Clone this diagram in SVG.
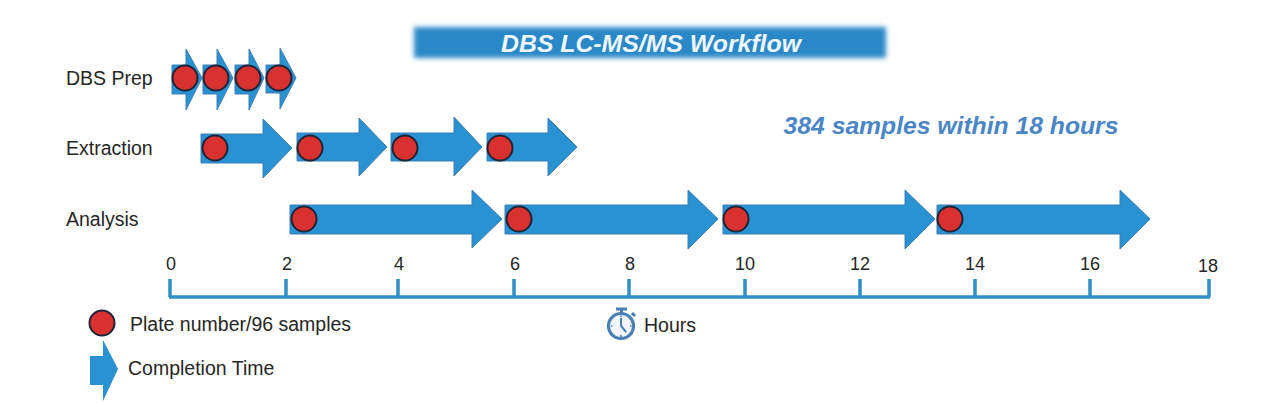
<svg xmlns="http://www.w3.org/2000/svg" width="1280" height="407" viewBox="0 0 1280 407">
<style>
.a{fill:#2892d3;stroke:#3f7fb5;stroke-width:1}
.p{fill:#d9312f;stroke:#1f2436;stroke-width:2}
.t{font-family:"Liberation Sans",Arial,sans-serif;font-size:19.5px;fill:#262626}
.n{font-family:"Liberation Sans",Arial,sans-serif;font-size:18px;fill:#262626;text-anchor:middle}
.ax{stroke:#2f8fc7;stroke-width:3.5;fill:none}
</style>
<defs><filter id="b" x="-5%" y="-40%" width="110%" height="180%"><feGaussianBlur stdDeviation="2.5"/></filter></defs>
<rect width="1280" height="407" fill="#fff"/>
<g id="title"><rect x="414" y="27" width="472" height="31" fill="#2a88c8" filter="url(#b)"/>
<text x="651" y="52" text-anchor="middle" font-family="'Liberation Sans',Arial,sans-serif" font-size="24.8" font-weight="700" font-style="italic" fill="#eef8fc">DBS LC-MS/MS Workflow</text></g>
<g id="note"><text x="951" y="134" text-anchor="middle" font-family="'Liberation Sans',Arial,sans-serif" font-size="24.7" font-weight="700" font-style="italic" fill="#4a86c5">384 samples within 18 hours</text></g>
<g id="row-labels"><text class="t" x="66" y="85">DBS Prep</text><text class="t" x="66" y="155">Extraction</text><text class="t" x="66" y="226">Analysis</text></g>
<g id="prep">
<path class="a" d="M172 65H186V49L202 78L186 110V94H172Z"/><path class="a" d="M203 65H217V49L233 78L217 110V94H203Z"/><path class="a" d="M235 65H249V49L264 78L249 110V94H235Z"/><path class="a" d="M266 65H280V48L296 78L280 109V93H266Z"/>
<circle class="p" cx="185" cy="78" r="12.5"/><circle class="p" cx="216" cy="78" r="12.5"/><circle class="p" cx="248" cy="78" r="12.5"/><circle class="p" cx="279" cy="78" r="12.5"/></g>
<g id="extraction">
<path class="a" d="M201 134H263V119L292 148L263 178V163H201Z"/><path class="a" d="M297 133H359V118L387 147L359 176V161H297Z"/><path class="a" d="M391 133H454V117L482 147L454 176V161H391Z"/><path class="a" d="M487 133H548V118L577 147L548 176V161H487Z"/>
<circle class="p" cx="215" cy="148" r="12.5"/><circle class="p" cx="310" cy="148" r="12.5"/><circle class="p" cx="405" cy="148" r="12.5"/><circle class="p" cx="500" cy="148" r="12.5"/></g>
<g id="analysis">
<path class="a" d="M290 205H472V190L502 219L472 248V234H290Z"/><path class="a" d="M505 205H688V190L718 219L688 249V234H505Z"/><path class="a" d="M723 205H905V190L935 219L905 249V234H723Z"/><path class="a" d="M937 205H1120V190L1150 219L1120 249V234H937Z"/>
<circle class="p" cx="304" cy="219" r="12.5"/><circle class="p" cx="519" cy="219" r="12.5"/><circle class="p" cx="736" cy="219" r="12.5"/><circle class="p" cx="950" cy="219" r="12.5"/></g>
<g id="axis">
<path class="ax" d="M169 297H1210M170 279V297M286 279V297M398 279V297M514 279V297M629 279V297M745 279V297M860 279V297M975 279V297M1090 279V297M1209 279V297"/>
<text class="n" x="171" y="270">0</text><text class="n" x="287" y="270">2</text><text class="n" x="399" y="270">4</text><text class="n" x="515" y="270">6</text><text class="n" x="630" y="270">8</text><text class="n" x="745" y="270">10</text><text class="n" x="860" y="270">12</text><text class="n" x="975" y="270">14</text><text class="n" x="1090" y="270">16</text><text class="n" x="1208" y="272">18</text></g>
<g id="clock" fill="none" stroke="#4a7fb5"><circle cx="621" cy="326" r="12.5" stroke-width="3.2" fill="#f2f6fb"/><path d="M616 309H627M621.500 309V313M632 313L635 316" stroke-width="3"/><path d="M621 318V326L626 332" stroke-width="2"/><path d="M621 315.500V317M621 335V337M611 326H612.500M630 326H631.500" stroke-width="1.500"/></g>
<g id="hours"><text class="t" x="644" y="332">Hours</text></g>
<g id="legend"><circle class="p" cx="102" cy="323" r="12.5"/><text class="t" x="130" y="331">Plate number/96 samples</text>
<path fill="#2892d3" d="M90 356H103V340L118 369L103 401V385H90Z"/><text class="t" x="128" y="375">Completion Time</text></g>
</svg>
